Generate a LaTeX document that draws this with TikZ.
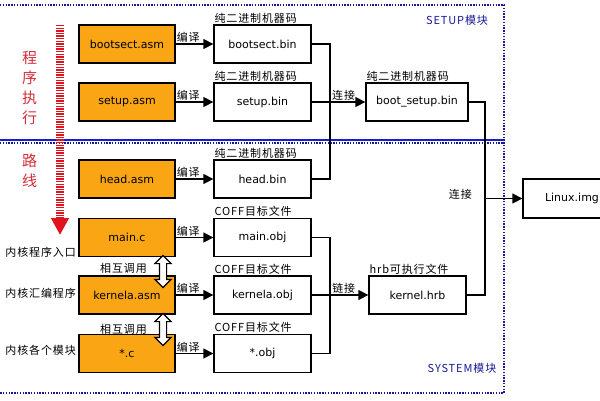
\documentclass[tikz,border=0pt]{standalone}
\usepackage{xcolor}
\usepackage{fontspec}
\setmainfont{DejaVu Sans}
\newfontfamily\cjk[LetterSpace=8]{Noto Sans CJK SC}
\usepackage{tikz}
\usetikzlibrary{arrows.meta}
\usetikzlibrary{shapes.arrows}

\definecolor{srcorange}{RGB}{250,165,20}
\definecolor{framenavy}{RGB}{25,25,150}
\definecolor{sepblue}{RGB}{20,30,210}
\definecolor{routered}{RGB}{225,20,30}
\definecolor{labelred}{RGB}{210,45,55}

\begin{document}
\begin{tikzpicture}[
    x=1pt, y=-1pt,
    font=\fontsize{11}{13}\selectfont,
    src/.style={
        draw,
        line width=1.3pt,
        fill=srcorange,
        minimum width=96pt,
        minimum height=38pt,
        inner sep=0pt
    },
    bin/.style={
        draw,
        line width=1.3pt,
        fill=white,
        minimum width=97pt,
        minimum height=38pt,
        inner sep=0pt
    },
    capt/.style={
        font=\cjk\fontsize{11}{12}\selectfont,
        inner sep=1pt
    },
    sidenote/.style={
        font=\cjk\fontsize{11}{12}\selectfont,
        inner sep=0pt
    },
    routetxt/.style={
        font=\cjk\fontsize{15}{20}\selectfont,
        text=labelred,
        align=center,
        inner sep=0pt
    },
    arr/.style={
        -{Triangle[length=10pt,width=10pt]},
        line width=1.3pt
    },
    lnk/.style={
        line width=1.3pt
    },
    modframe/.style={
        framenavy,
        line width=2.6pt,
        dash pattern=on 1.4pt off 1.4pt
    },
    swaparrow/.style={
        double arrow,
        draw,
        fill=white,
        line width=1.2pt,
        rotate=90,
        inner sep=3pt,
        minimum height=32pt,
        double arrow head extend=4.5pt
    }
]
\useasboundingbox (0,0) rectangle (600,400);

% Module frames
\coordinate (ftl) at (0,5);
\coordinate (ftr) at (504,5);
\coordinate (fbr) at (504,393);
\coordinate (fbl) at (0,393);
\draw[modframe] (ftl) -- (ftr) -- (fbr) -- (fbl);
\draw[sepblue, line width=2pt] (0,140) -- (504,140);
\draw[modframe] (0,143) -- (504,143);

\node[capt, text=framenavy] (setupmod) at (457,20) {SETUP模块};
\node[capt, text=framenavy] (sysmod) at (462,368) {SYSTEM模块};

% Execution route
\node[routetxt] (routea) at (29.5,87.5) {程\\序\\执\\行};
\node[routetxt] (routeb) at (29.5,170.5) {路\\线};
\coordinate (rtop) at (60,25);
\coordinate (rbot) at (60,235);
\draw[routered, line width=8pt, dash pattern=on 1.3pt off 1.3pt,
    -{Triangle[length=17pt,width=17pt]}] (rtop) -- (rbot);

% Sources
\node[src] (bsasm) at (127,44) {bootsect.asm};
\node[src] (stasm) at (127,102) {setup.asm};
\node[src] (hdasm) at (127,179) {head.asm};
\node[src] (mainc) at (127,237.5) {main.c};
\node[src] (kaasm) at (127,295) {kernela.asm};
\node[src] (starc) at (127,353.5) {*.c};

% Side notes
\node[sidenote, anchor=east] (entry) at (76,252) {内核程序入口};
\node[sidenote, anchor=east] (asmnote) at (76,293) {内核汇编程序};
\node[sidenote, anchor=east] (modnote) at (76,350) {内核各个模块};
\node[sidenote, anchor=east] (calla) at (147,268) {相互调用};
\node[sidenote, anchor=east] (callb) at (147,329) {相互调用};
\node[swaparrow] (swapa) at (163,271.5) {};
\node[swaparrow] (swapb) at (163,329.5) {};

% Compiled files
\node[bin] (bsbin) at (262.5,44) {bootsect.bin};
\node[bin] (stbin) at (262.5,102) {setup.bin};
\node[bin] (hdbin) at (262.5,179) {head.bin};
\node[bin] (mainobj) at (262.5,237.5) {main.obj};
\node[bin] (kaobj) at (262.5,295) {kernela.obj};
\node[bin] (starobj) at (262.5,353.5) {*.obj};

\node[capt, anchor=south west] (bsbincap) at (bsbin.north west) {纯二进制机器码};
\node[capt, anchor=south west] (stbincap) at (stbin.north west) {纯二进制机器码};
\node[capt, anchor=south west] (hdbincap) at (hdbin.north west) {纯二进制机器码};
\node[capt, anchor=south west] (mainobjcap) at (mainobj.north west) {COFF目标文件};
\node[capt, anchor=south west] (kaobjcap) at (kaobj.north west) {COFF目标文件};
\node[capt, anchor=south west] (starobjcap) at (starobj.north west) {COFF目标文件};

% Compile
\foreach \s/\t in {bsasm/bsbin, stasm/stbin, hdasm/hdbin,
                   mainc/mainobj, kaasm/kaobj, starc/starobj}
    \draw[arr] (\s) --
        node[capt, pos=0, anchor=south west, inner sep=0.5pt]
        {编译}
        (\t);

% Linked images
\node[bin, minimum width=102pt] (bootbin) at (417,102) {boot\_setup.bin};
\node[bin] (hrb) at (417.5,295) {kernel.hrb};
\node[bin, minimum width=98pt, minimum height=39pt] (img) at (572,198.5) {Linux.img};

\node[capt, anchor=south west] (bootbincap) at (bootbin.north west) {纯二进制机器码};
\node[capt, anchor=south west] (hrbcap) at (hrb.north west) {hrb可执行文件};

% Setup link
\coordinate (jsetup) at (330,102);
\draw[lnk] (bsbin.east) -| (jsetup);
\draw[lnk] (hdbin.east) -| (jsetup);
\draw[arr] (stbin) --
    node[capt, pos=0.36, anchor=south west, inner sep=0.5pt]
    {连接}
    (bootbin);

% System link
\coordinate (jsys) at (330,295);
\draw[lnk] (mainobj.east) -| (jsys);
\draw[lnk] (starobj.east) -| (jsys);
\draw[arr] (kaobj) --
    node[capt, pos=0.345, anchor=south west, inner sep=0.5pt]
    {链接}
    (hrb);

% Final image
\coordinate (jimg) at (485,198.5);
\draw[lnk] (bootbin.east) -| (jimg);
\draw[lnk] (hrb.east) -| (jimg);
\draw[arr] (jimg) -- (img);
\node[capt, anchor=south east] (imglnk) at (473,201) {连接};

\end{tikzpicture}
\end{document}
